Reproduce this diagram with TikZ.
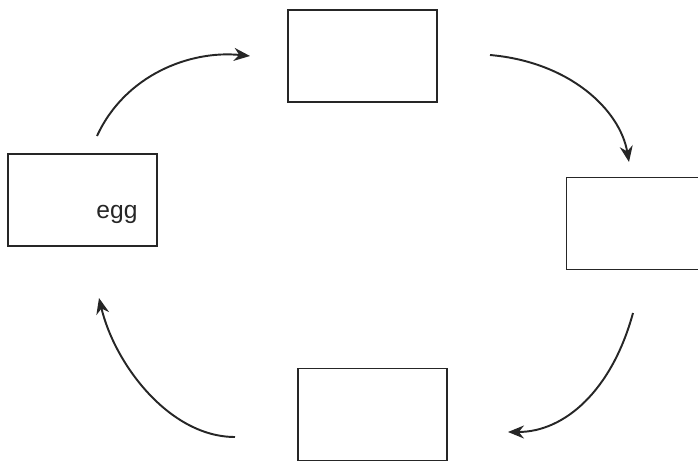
\documentclass[tikz,border=0pt]{standalone}
\usepackage{fontspec}
\setmainfont{Liberation Sans}
\usetikzlibrary{arrows.meta, positioning}
\tikzset{
    stagebox/.style={rectangle, draw=black!85, line width=0.9pt, minimum width=2.98cm,
                     minimum height=1.84cm, inner sep=0pt},
    cycle/.style={line width=1.1pt, black!85, -{Stealth[length=3.2mm, width=2.6mm]}},
    stagelabel/.style={font=\fontsize{14}{16}\selectfont, text=black!85}
}
\begin{document}
\begin{tikzpicture}[x=0.02cm, y=-0.02cm]
    \useasboundingbox (0,0) rectangle (698,463);
    \clip (0,0) rectangle (698,463);

    % Stage boxes
    \node[stagebox] (egg) at (82.5,200) {};
    \node[stagebox] (top) at (362.5,56) {};
    \node[stagebox] (right) at (641,223.5) {};
    \node[stagebox] (bottom) at (372.5,414.5) {};

    % Label
    \node[stagelabel] (egglabel) at (117,214) {egg};

    % Arrow ends
    \coordinate (a1) at (97,136);
    \coordinate (b1) at (250,56);
    \coordinate (a2) at (490,55);
    \coordinate (b2) at (629,162);
    \coordinate (a3) at (633,313);
    \coordinate (b3) at (508,432);
    \coordinate (a4) at (235,437);
    \coordinate (b4) at (99,298);

    % Cycle arrows
    \draw[cycle] (a1) .. controls (125,75) and (190,50) .. (b1);
    \draw[cycle] (a2) .. controls (570,62) and (620,110) .. (b2);
    \draw[cycle] (a3) .. controls (612,390) and (565,432) .. (b3);
    \draw[cycle] (a4) .. controls (170,437) and (115,365) .. (b4);
\end{tikzpicture}
\end{document}
